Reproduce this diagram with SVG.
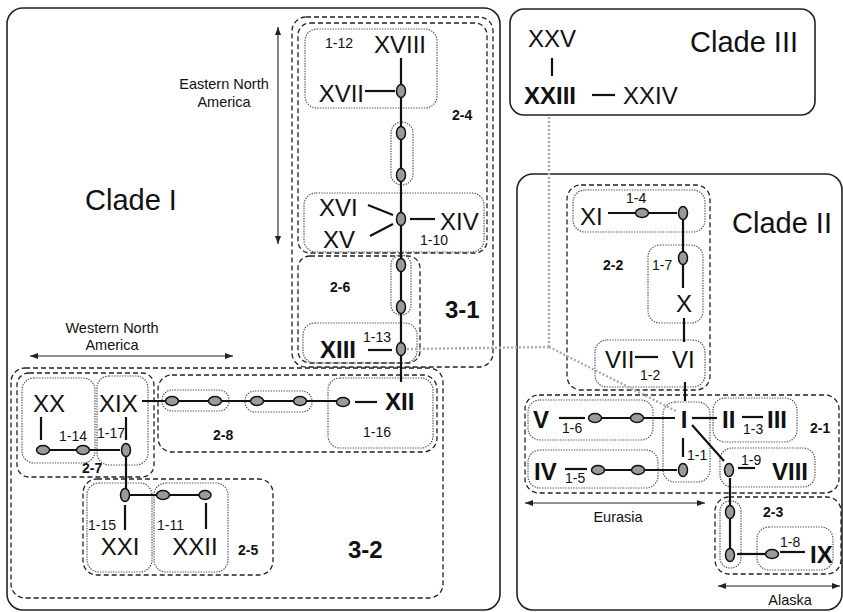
<svg xmlns="http://www.w3.org/2000/svg" width="843" height="612" viewBox="0 0 843 612">
<style>
text{font-family:"Liberation Sans",Arial,sans-serif;fill:#111}
.big{font-size:29px}
.rn{font-size:24px}
.rb{font-size:24px;font-weight:bold}
.sm{font-size:14px}
.gl{font-size:14px;font-weight:bold}
.reg{font-size:14.5px}
.clade{fill:none;stroke:#222;stroke-width:1.6}
.dash{fill:none;stroke:#222;stroke-width:1.3;stroke-dasharray:5 3}
.dot{fill:none;stroke:#555;stroke-width:1.2;stroke-dasharray:1.4 1.2}
.ln{stroke:#111;stroke-width:2.2;fill:none}
.gray{stroke:#aaa;stroke-width:2.4;stroke-dasharray:2 2;fill:none}
.ar{stroke:#222;stroke-width:1.1;fill:none;marker-start:url(#ah);marker-end:url(#ah)}
.n{fill:#9a9a9a;stroke:#111;stroke-width:1.5}
</style>
<defs>
<marker id="ah" viewBox="0 0 8 6" refX="8" refY="3" markerWidth="8" markerHeight="6" markerUnits="userSpaceOnUse" orient="auto-start-reverse"><path d="M0,0 L8,3 L0,6 z" fill="#222"/></marker>
</defs>

<g id="clades">
<g id="cladeI"><rect class="clade" x="7" y="8" width="493" height="602" rx="16"/><text class="big" x="85" y="210" font-size="30">Clade I</text></g>
<g id="cladeIII"><rect class="clade" x="510" y="9" width="305" height="106" rx="14"/><text class="big" x="690" y="52">Clade III</text></g>
<g id="cladeII"><rect class="clade" x="517" y="174" width="325" height="436" rx="16"/><text class="big" x="732" y="233">Clade II</text></g>
</g>

<g id="regions">
<line class="ar" x1="278" y1="27" x2="278" y2="244"/>
<text class="reg" x="224" y="89" text-anchor="middle">Eastern North</text>
<text class="reg" x="224" y="107" text-anchor="middle">America</text>
<line class="ar" x1="30" y1="356" x2="233" y2="356"/>
<text class="reg" x="112" y="333" text-anchor="middle">Western North</text>
<text class="reg" x="112" y="350" text-anchor="middle">America</text>
<line class="ar" x1="525" y1="503" x2="705" y2="503"/>
<text class="reg" x="618" y="522" text-anchor="middle">Eurasia</text>
<line class="ar" x1="718" y1="586" x2="840" y2="586"/>
<text class="reg" x="790" y="605" text-anchor="middle">Alaska</text>
</g>

<g id="groups">
<g id="g3-1"><rect class="dash" x="292" y="17" width="201" height="350" rx="14"/><text class="rb" x="445" y="318" font-size="21">3-1</text></g>
<g id="g2-4"><rect class="dash" x="298" y="23" width="189" height="230" rx="12"/><text class="gl" x="452" y="120">2-4</text></g>
<g id="g2-6"><rect class="dash" x="298" y="256" width="122" height="107" rx="12"/><text class="gl" x="330" y="292">2-6</text></g>
<g id="g3-2"><rect class="dash" x="11" y="368" width="432" height="230" rx="14"/><text class="rb" x="348" y="558" font-size="23">3-2</text></g>
<g id="g2-7"><rect class="dash" x="17" y="373" width="137" height="104" rx="12"/><text class="gl" x="82" y="473">2-7</text></g>
<g id="g2-8"><rect class="dash" x="158" y="375" width="279" height="77" rx="14"/><text class="gl" x="213" y="440">2-8</text></g>
<g id="g2-5"><rect class="dash" x="83" y="479" width="190" height="96" rx="14"/><text class="gl" x="238" y="555">2-5</text></g>
<g id="g2-2"><rect class="dash" x="567" y="185" width="143" height="205" rx="14"/><text class="gl" x="603" y="270">2-2</text></g>
<g id="g2-1"><rect class="dash" x="525" y="395" width="314" height="98" rx="14"/><text class="gl" x="810" y="433">2-1</text></g>
<g id="g2-3"><rect class="dash" x="715" y="497" width="126" height="77" rx="14"/><text class="gl" x="763" y="517">2-3</text></g>
</g>

<g id="onesteps">
<g id="s1-12"><rect class="dot" x="305" y="29" width="132" height="79" rx="12"/><text class="sm" x="325" y="48">1-12</text></g>
<rect class="dot" x="391" y="122" width="22" height="63" rx="11"/>
<g id="s1-10"><rect class="dot" x="304" y="193" width="180" height="59" rx="12"/><text class="sm" x="420" y="245">1-10</text></g>
<rect class="dot" x="391" y="255" width="20" height="60" rx="10"/>
<g id="s1-13"><rect class="dot" x="303" y="323" width="114" height="40" rx="12"/><text class="sm" x="363" y="342">1-13</text></g>
<g id="s1-14"><rect class="dot" x="22" y="378" width="73" height="85" rx="12"/><text class="sm" x="59" y="441">1-14</text></g>
<g id="s1-17"><rect class="dot" x="97" y="376" width="51" height="89" rx="12"/><text class="sm" x="97" y="438">1-17</text></g>
<rect class="dot" x="162" y="390" width="67" height="21" rx="10"/>
<rect class="dot" x="245" y="391" width="67" height="21" rx="10"/>
<g id="s1-16"><rect class="dot" x="328" y="378" width="105" height="70" rx="12"/><text class="sm" x="363" y="437">1-16</text></g>
<g id="s1-15"><rect class="dot" x="87" y="483" width="65" height="89" rx="12"/><text class="sm" x="88" y="530">1-15</text></g>
<g id="s1-11"><rect class="dot" x="154" y="483" width="74" height="89" rx="12"/><text class="sm" x="157" y="530">1-11</text></g>
<g id="s1-4"><rect class="dot" x="573" y="190" width="132" height="42" rx="12"/><text class="sm" x="626" y="203">1-4</text></g>
<g id="s1-7"><rect class="dot" x="648" y="245" width="55" height="78" rx="12"/><text class="sm" x="652" y="270">1-7</text></g>
<g id="s1-2"><rect class="dot" x="595" y="340" width="110" height="47" rx="12"/><text class="sm" x="640" y="380">1-2</text></g>
<g id="s1-6"><rect class="dot" x="528" y="400" width="125" height="40" rx="12"/><text class="sm" x="562" y="433">1-6</text></g>
<g id="s1-1"><rect class="dot" x="663" y="402" width="47" height="80" rx="12"/><text class="sm" x="687" y="460">1-1</text></g>
<g id="s1-3"><rect class="dot" x="713" y="398" width="84" height="44" rx="12"/><text class="sm" x="743" y="434">1-3</text></g>
<g id="s1-9"><rect class="dot" x="720" y="448" width="95" height="39" rx="12"/><text class="sm" x="741" y="465">1-9</text></g>
<g id="s1-5"><rect class="dot" x="528" y="450" width="130" height="38" rx="12"/><text class="sm" x="565" y="483">1-5</text></g>
<rect class="dot" x="720" y="501" width="21" height="67" rx="10"/>
<g id="s1-8"><rect class="dot" x="757" y="527" width="76" height="43" rx="12"/><text class="sm" x="780" y="547">1-8</text></g>
</g>

<g id="connectors">
<line class="gray" x1="549" y1="117" x2="549" y2="347"/>
<line class="gray" x1="407" y1="349" x2="549" y2="347"/>
<line class="gray" x1="549" y1="347" x2="676" y2="411"/>
<line class="ln" x1="401" y1="58" x2="401" y2="382"/>
<line class="ln" x1="365" y1="91" x2="395" y2="91"/>
<line class="ln" x1="368" y1="205" x2="393" y2="215"/>
<line class="ln" x1="370" y1="236" x2="393" y2="224"/>
<line class="ln" x1="410" y1="219" x2="435" y2="219"/>
<line class="ln" x1="368" y1="350" x2="392" y2="350"/>
<line class="ln" x1="142" y1="401" x2="337" y2="401"/>
<line class="ln" x1="355" y1="402" x2="377" y2="402"/>
<line class="ln" x1="41" y1="417" x2="41" y2="440"/>
<line class="ln" x1="126" y1="417" x2="126" y2="440"/>
<line class="ln" x1="49" y1="450" x2="120" y2="450"/>
<line class="ln" x1="126" y1="456" x2="126" y2="489"/>
<line class="ln" x1="130" y1="495" x2="199" y2="495"/>
<line class="ln" x1="125" y1="505" x2="125" y2="530"/>
<line class="ln" x1="206" y1="503" x2="206" y2="529"/>
<line class="ln" x1="552" y1="58" x2="552" y2="76"/>
<line class="ln" x1="592" y1="95" x2="615" y2="95"/>
<line class="ln" x1="608" y1="213" x2="677" y2="213"/>
<line class="ln" x1="683" y1="220" x2="683" y2="252"/>
<line class="ln" x1="683" y1="265" x2="683" y2="288"/>
<line class="ln" x1="684" y1="318" x2="684" y2="342"/>
<line class="ln" x1="635" y1="357" x2="658" y2="357"/>
<line class="ln" x1="685" y1="382" x2="685" y2="401"/>
<line class="ln" x1="559" y1="418" x2="585" y2="418"/>
<line class="ln" x1="601" y1="418" x2="675" y2="418"/>
<line class="ln" x1="692" y1="418" x2="717" y2="418"/>
<line class="ln" x1="742" y1="417" x2="763" y2="417"/>
<line class="ln" x1="683" y1="438" x2="683" y2="457"/>
<line class="ln" x1="565" y1="469" x2="587" y2="469"/>
<line class="ln" x1="604" y1="470" x2="677" y2="470"/>
<line class="ln" x1="692" y1="425" x2="724" y2="461"/>
<line class="ln" x1="738" y1="468" x2="755" y2="468"/>
<line class="ln" x1="730" y1="478" x2="730" y2="555"/>
<line class="ln" x1="737" y1="554" x2="766" y2="554"/>
<line class="ln" x1="780" y1="552" x2="805" y2="552"/>
</g>

<g id="nodes">
<ellipse class="n" cx="401" cy="91" rx="4.5" ry="6.5"/>
<ellipse class="n" cx="401" cy="133" rx="4.5" ry="6.5"/>
<ellipse class="n" cx="401" cy="175" rx="4.5" ry="6.5"/>
<ellipse class="n" cx="401" cy="219" rx="4.5" ry="6.5"/>
<ellipse class="n" cx="401" cy="265" rx="4.5" ry="6.5"/>
<ellipse class="n" cx="401" cy="307" rx="4.5" ry="6.5"/>
<ellipse class="n" cx="401" cy="349" rx="4.5" ry="6.5"/>
<ellipse class="n" cx="43" cy="450" rx="6.5" ry="4.5"/>
<ellipse class="n" cx="83" cy="450" rx="6.5" ry="4.5"/>
<ellipse class="n" cx="126" cy="450" rx="4.5" ry="6.5"/>
<ellipse class="n" cx="172" cy="401" rx="6.5" ry="4.5"/>
<ellipse class="n" cx="215" cy="401" rx="6.5" ry="4.5"/>
<ellipse class="n" cx="257" cy="401" rx="6.5" ry="4.5"/>
<ellipse class="n" cx="300" cy="401" rx="6.5" ry="4.5"/>
<ellipse class="n" cx="343" cy="402" rx="6.5" ry="4.5"/>
<ellipse class="n" cx="125" cy="495" rx="4.5" ry="6.5"/>
<ellipse class="n" cx="163" cy="495" rx="6.5" ry="4.5"/>
<ellipse class="n" cx="205" cy="495" rx="6" ry="4.5"/>
<ellipse class="n" cx="642" cy="213" rx="6.5" ry="4.5"/>
<ellipse class="n" cx="683" cy="213" rx="4.5" ry="6.5"/>
<ellipse class="n" cx="683" cy="258" rx="4.5" ry="6.5"/>
<ellipse class="n" cx="595" cy="418" rx="6.5" ry="4.5"/>
<ellipse class="n" cx="637" cy="418" rx="6.5" ry="4.5"/>
<ellipse class="n" cx="683" cy="470" rx="4.5" ry="6.5"/>
<ellipse class="n" cx="598" cy="470" rx="6.5" ry="4.5"/>
<ellipse class="n" cx="638" cy="470" rx="6.5" ry="4.5"/>
<ellipse class="n" cx="729" cy="470" rx="4.5" ry="6.5"/>
<ellipse class="n" cx="730" cy="512" rx="4.5" ry="6.5"/>
<ellipse class="n" cx="730" cy="555" rx="4.5" ry="6.5"/>
<ellipse class="n" cx="772" cy="554" rx="6.5" ry="4.5"/>
</g>

<g id="haplotypes">
<g id="hXVIII"><text class="rn" x="400" y="53" text-anchor="middle" font-size="25">XVIII</text></g>
<g id="hXVII"><text class="rn" x="364" y="102" text-anchor="end">XVII</text></g>
<g id="hXVI"><text class="rn" x="319" y="216">XVI</text></g>
<g id="hXV"><text class="rn" x="323" y="248">XV</text></g>
<g id="hXIV"><text class="rn" x="440" y="230" font-size="25">XIV</text></g>
<g id="hXIII"><text class="rb" x="320" y="358">XIII</text></g>
<g id="hXX"><text class="rn" x="33" y="412">XX</text></g>
<g id="hXIX"><text class="rn" x="99" y="412" font-size="25">XIX</text></g>
<g id="hXII"><text class="rb" x="385" y="410" font-size="25">XII</text></g>
<g id="hXXI"><text class="rn" x="120" y="555" text-anchor="middle" font-size="25">XXI</text></g>
<g id="hXXII"><text class="rn" x="195" y="555" text-anchor="middle">XXII</text></g>
<g id="hXXV"><text class="rn" x="552" y="47" text-anchor="middle">XXV</text></g>
<g id="hXXIII"><text class="rb" x="524" y="104">XXIII</text></g>
<g id="hXXIV"><text class="rn" x="623" y="104">XXIV</text></g>
<g id="hXI"><text class="rn" x="580" y="225" font-size="26">XI</text></g>
<g id="hX"><text class="rn" x="684" y="312" text-anchor="middle" font-size="25">X</text></g>
<g id="hVII"><text class="rn" x="605" y="368">VII</text></g>
<g id="hVI"><text class="rn" x="672" y="368">VI</text></g>
<g id="hV"><text class="rb" x="533" y="428" font-size="26">V</text></g>
<g id="hI"><text class="rb" x="684" y="428" text-anchor="middle" font-size="26">I</text></g>
<g id="hII"><text class="rb" x="722" y="428" font-size="26">II</text></g>
<g id="hIII"><text class="rb" x="767" y="428" font-size="26">III</text></g>
<g id="hIV"><text class="rb" x="534" y="480" font-size="26">IV</text></g>
<g id="hVIII"><text class="rb" x="772" y="480">VIII</text></g>
<g id="hIX"><text class="rb" x="810" y="563" font-size="25">IX</text></g>
</g>
</svg>
